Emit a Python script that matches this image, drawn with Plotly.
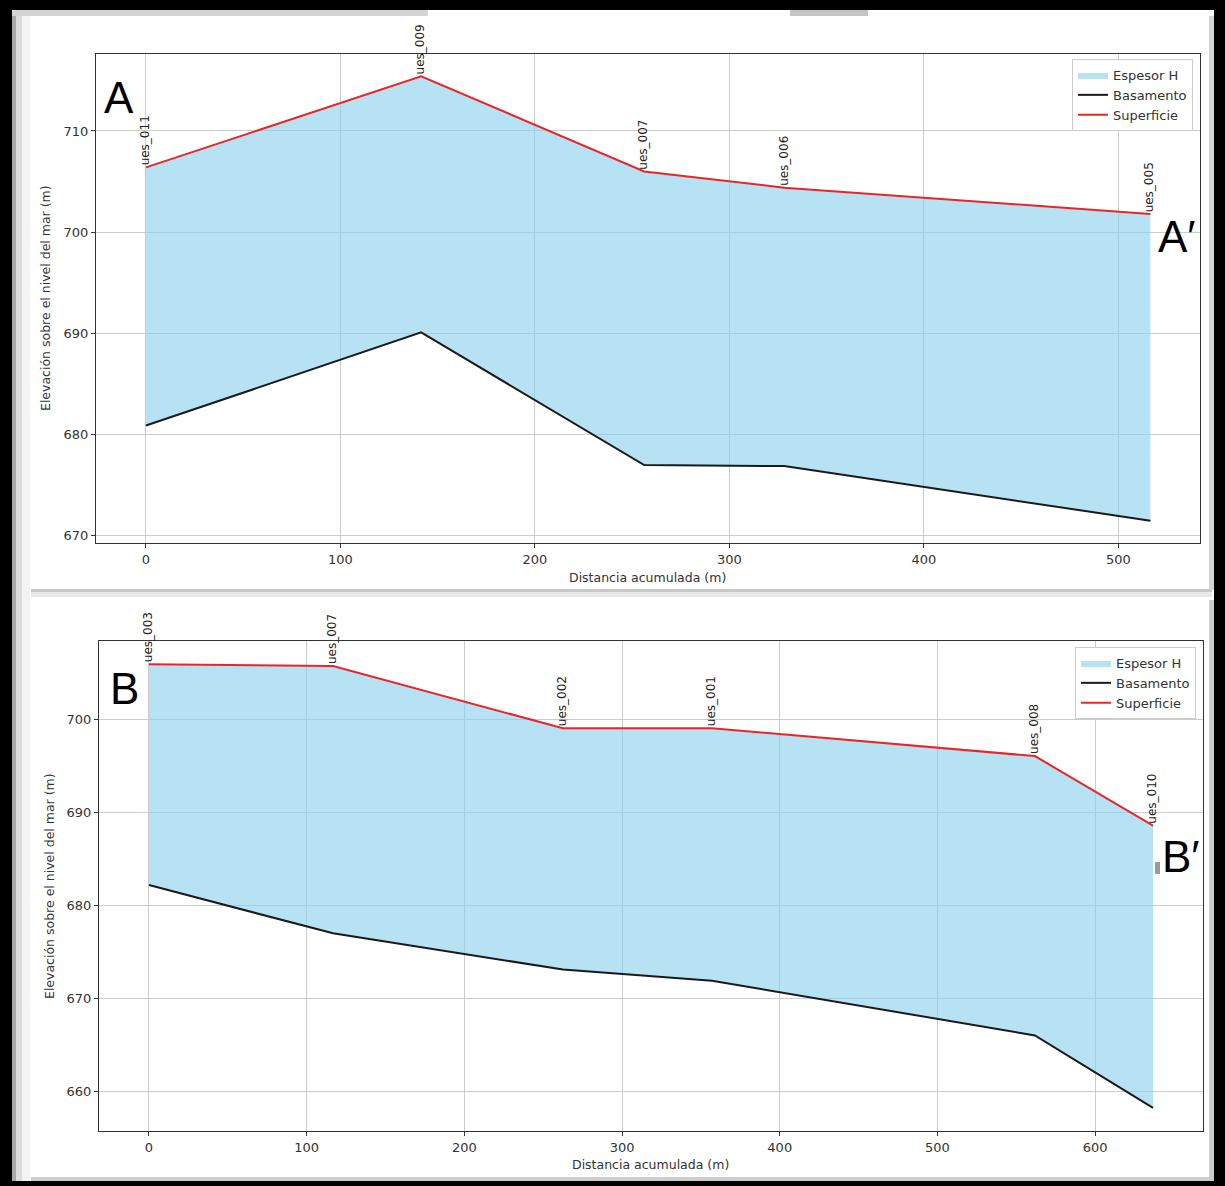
import plotly.graph_objects as go

W, H = 1225, 1186

# ---------------- Data ----------------
# Section A - A'
a_stations = ["ues_011", "ues_009", "ues_007", "ues_006", "ues_005"]
a_dist = [0, 141.5, 256.2, 328.2, 516.5]
a_surface = [706.4, 715.4, 706.0, 704.4, 701.8]
a_basement = [680.9, 690.1, 677.0, 676.9, 671.5]

# Section B - B'
b_stations = ["ues_003", "ues_007", "ues_002", "ues_001", "ues_008", "ues_010"]
b_dist = [0, 116.7, 262.5, 357.0, 561.8, 636.7]
b_surface = [706.0, 705.8, 699.1, 699.1, 696.1, 688.6]
b_basement = [682.2, 677.0, 673.1, 671.9, 666.0, 658.2]

a_xticks = [0, 100, 200, 300, 400, 500]
a_yticks = [670, 680, 690, 700, 710]
b_xticks = [0, 100, 200, 300, 400, 500, 600]
b_yticks = [660, 670, 680, 690, 700]

FILL = "rgba(135,206,235,0.6)"
RED = "#e8262a"
BLACK = "#1a1a1a"
FONT = "DejaVu Sans"


def px(x):
    return x / W


def py(y):
    return 1 - y / H


fig = go.Figure()


def add_section(dist, surf, base, xa, ya, legend):
    fig.add_trace(go.Scatter(x=dist, y=base, mode="lines", line=dict(width=0),
                             showlegend=False, hoverinfo="skip", xaxis=xa, yaxis=ya))
    fig.add_trace(go.Scatter(x=dist, y=surf, mode="lines", line=dict(width=0),
                             fill="tonexty", fillcolor=FILL, name="Espesor H",
                             xaxis=xa, yaxis=ya, legend=legend))
    fig.add_trace(go.Scatter(x=dist, y=base, mode="lines",
                             line=dict(color=BLACK, width=2), name="Basamento",
                             xaxis=xa, yaxis=ya, legend=legend))
    fig.add_trace(go.Scatter(x=dist, y=surf, mode="lines",
                             line=dict(color=RED, width=2), name="Superficie",
                             xaxis=xa, yaxis=ya, legend=legend))


add_section(a_dist, a_surface, a_basement, "x", "y", "legend")
add_section(b_dist, b_surface, b_basement, "x2", "y2", "legend2")

annotations = []
for xa, ya, names, d, s in [("x", "y", a_stations, a_dist, a_surface),
                            ("x2", "y2", b_stations, b_dist, b_surface)]:
    for n, xv, yv in zip(names, d, s):
        annotations.append(dict(x=xv, y=yv, xref=xa, yref=ya, text=n, showarrow=False,
                                textangle=-90, xanchor="center", yanchor="bottom",
                                xshift=-1, font=dict(size=12, color="#222", family=FONT)))

title_font = dict(size=12.5, color="#333", family=FONT)
annotations += [
    dict(x=px(647), y=py(577), xref="paper", yref="paper", text="Distancia acumulada (m)",
         showarrow=False, xanchor="center", yanchor="middle", font=title_font),
    dict(x=px(650), y=py(1164), xref="paper", yref="paper", text="Distancia acumulada (m)",
         showarrow=False, xanchor="center", yanchor="middle", font=title_font),
    dict(x=px(45), y=py(298), xref="paper", yref="paper",
         text="Elevación sobre el nivel del mar (m)", textangle=-90,
         showarrow=False, xanchor="center", yanchor="middle", font=title_font),
    dict(x=px(49), y=py(886), xref="paper", yref="paper",
         text="Elevación sobre el nivel del mar (m)", textangle=-90,
         showarrow=False, xanchor="center", yanchor="middle", font=title_font),
]

# section letters
for txt, x, y in [("A", 119, 97), ("A′", 1177, 236), ("B", 124, 688), ("B′", 1181, 856)]:
    annotations.append(dict(x=px(x), y=py(y), xref="paper", yref="paper", text=txt,
                            showarrow=False, xanchor="center", yanchor="middle",
                            font=dict(size=44, color="#000", family="Liberation Sans")))

# background decoration (panels, shadows)
shapes = []


def rect(x0, y0, x1, y1, color):
    shapes.append(dict(type="rect", xref="paper", yref="paper", layer="below",
                       x0=px(x0), x1=px(x1), y0=py(y1), y1=py(y0),
                       fillcolor=color, line=dict(width=0)))


rect(12, 10, 1214, 1181, "#ffffff")
rect(12, 10, 16, 1181, "#a8a8a8")
rect(16, 10, 22, 1181, "#dcdcdc")
rect(22, 10, 30, 1181, "#f3f3f3")
rect(12, 10, 428, 16, "#d4d4d4")
rect(790, 10, 868, 16, "#c4c4c4")
rect(31, 589, 1212, 592, "#c8c8c8")
rect(31, 592, 1212, 597, "#e8e8e8")
rect(1209, 16, 1214, 590, "#d4d4d4")
rect(1209, 600, 1214, 1181, "#cccccc")
rect(31, 1177, 1214, 1181, "#cccccc")
rect(1155, 862, 1160, 874, "#9a9a9a")

axis_common = dict(showline=True, mirror=True, linecolor="#333", linewidth=1.2,
                   ticks="outside", ticklen=4, tickcolor="#333", tickwidth=1,
                   showgrid=True, gridcolor="#cccccc", gridwidth=1, zeroline=False,
                   tickfont=dict(size=13, color="#333", family=FONT))

legend_common = dict(bgcolor="#ffffff", bordercolor="#cccccc", borderwidth=1,
                     font=dict(size=13, color="#333", family=FONT),
                     xanchor="right", yanchor="top", traceorder="normal",
                     itemwidth=30, tracegroupgap=0)

fig.update_layout(
    width=W, height=H,
    margin=dict(l=0, r=0, t=0, b=0),
    paper_bgcolor="#000000",
    plot_bgcolor="#ffffff",
    showlegend=True,
    font=dict(family=FONT),
    xaxis=dict(domain=[px(96), px(1200)], range=[-25.7, 542], tickvals=a_xticks,
               anchor="y", **axis_common),
    yaxis=dict(domain=[py(543), py(54)], range=[669.3, 717.6], tickvals=a_yticks,
               anchor="x", **axis_common),
    xaxis2=dict(domain=[px(99), px(1203)], range=[-31.7, 668.4], tickvals=b_xticks,
                anchor="y2", **axis_common),
    yaxis2=dict(domain=[py(1131), py(641)], range=[655.7, 708.5], tickvals=b_yticks,
                anchor="x2", **axis_common),
    legend=dict(x=px(1193), y=py(59), **legend_common),
    legend2=dict(x=px(1196), y=py(647), **legend_common),
    annotations=annotations,
    shapes=shapes,
)

fig.write_html("out.html")
